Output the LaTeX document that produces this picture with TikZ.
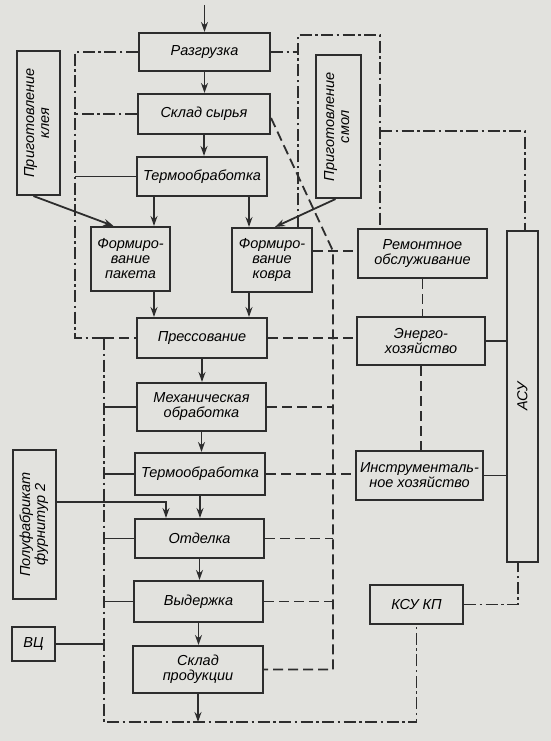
\documentclass[tikz,border=0pt]{standalone}
\usepackage{fontspec}
\setmainfont{Liberation Sans}
\usepackage{xcolor}
\usetikzlibrary{arrows.meta}
\usetikzlibrary{positioning}
\definecolor{paper}{RGB}{226,226,222}
\definecolor{ink}{RGB}{45,45,45}

\begin{document}
\begin{tikzpicture}[x=1pt,y=-1pt,
  every node/.style={font=\fontsize{14.5}{15}\selectfont\itshape,align=center,inner sep=0pt},
  blk/.style={draw=ink,line width=2.1pt,rectangle},
  arr/.style={-{Stealth[length=10pt,width=7pt]},line width=1.8pt,draw=ink},
  ln/.style={line width=1.8pt,draw=ink},
  dd/.style={ln,dash pattern=on 12pt off 3.5pt on 2.5pt off 3.5pt},
  dsh/.style={ln,dash pattern=on 10pt off 5pt}]
\useasboundingbox (0,0) rectangle (551,741);
\fill[paper] (0,0) rectangle (551,741);

% main line
\node[blk,minimum width=131,minimum height=38] (razg) at (204.5,52) {Разгрузка};
\node[blk,minimum width=132,minimum height=40] (sklad) at (204,114) {Склад сырья};
\node[blk,minimum width=130,minimum height=39] (term1) at (202,176.5) {Термообработка};
\node[blk,minimum width=79,minimum height=64] (paket) at (130.5,259) {Формиро-\\вание\\пакета};
\node[blk,minimum width=80,minimum height=64] (kovr) at (272,260) {Формиро-\\вание\\ковра};
\node[blk,minimum width=130,minimum height=40] (press) at (202,338) {Прессование};
\node[blk,minimum width=129,minimum height=48] (meh) at (201.5,407) {Механическая\\обработка};
\node[blk,minimum width=130,minimum height=42] (term2) at (200,474) {Термообработка};
\node[blk,minimum width=129,minimum height=39] (otd) at (199.5,538.5) {Отделка};
\node[blk,minimum width=129,minimum height=41] (vyd) at (198.5,601.5) {Выдержка};
\node[blk,minimum width=130,minimum height=47] (skladp) at (198,669.5) {Склад\\продукции};

% side blocks
\node[blk,minimum width=43,minimum height=144] (klei) at (38.5,123)
  {\rotatebox{90}{\begin{tabular}{@{}c@{}}Приготовление\\клея\end{tabular}}};
\node[blk,minimum width=45,minimum height=143] (smol) at (338.5,126.5)
  {\rotatebox{90}{\begin{tabular}{@{}c@{}}Приготовление\\смол\end{tabular}}};
\node[blk,minimum width=43,minimum height=149] (polu) at (34.5,524.5)
  {\rotatebox{90}{\begin{tabular}{@{}c@{}}Полуфабрикат\\фурнитур 2\end{tabular}}};
\node[blk,minimum width=43,minimum height=34] (vc) at (33.5,644) {ВЦ};
\node[blk,minimum width=129,minimum height=49] (remont) at (422.5,253.5) {Ремонтное\\обслуживание};
\node[blk,minimum width=128,minimum height=48] (energo) at (421,341) {Энерго-\\хозяйство};
\node[blk,minimum width=127,minimum height=49] (instr) at (419.5,475.5) {Инструменталь-\\ное хозяйство};
\node[blk,minimum width=31,minimum height=331] (asu) at (522.5,396.5) {\rotatebox{90}{АСУ}};
\node[blk,minimum width=93,minimum height=39] (ksu) at (416.5,604.5) {КСУ КП};

\coordinate (in) at (204.5,5);
\coordinate (a1) at (154,0);
\coordinate (a2) at (249,0);
\coordinate (bl) at (75,0);
\coordinate (bl2) at (104,0);
\coordinate (bb) at (0,722);
\coordinate (br) at (333,251);
\coordinate (fl) at (298,35);
\coordinate (fr) at (380,35);
\coordinate (ay) at (525,131);
\coordinate (ax) at (518,0);

% material flow
\draw[arr] (in) -- (razg.north);
\draw[arr] (razg.south) -- (razg.south |- sklad.north);
\draw[arr] (sklad.south) -- (sklad.south |- term1.north);
\draw[arr] (term1.south -| a1) -- (paket.north -| a1);
\draw[arr] (term1.south -| a2) -- (kovr.north -| a2);
\draw[arr] (paket.south -| a1) -- (press.north -| a1);
\draw[arr] (kovr.south -| a2) -- (press.north -| a2);
\draw[arr] (press.south) -- (press.south |- meh.north);
\draw[arr] (meh.south) -- (meh.south |- term2.north);
\draw[arr] (term2.south) -- (term2.south |- otd.north);
\draw[arr] (otd.south) -- (otd.south |- vyd.north);
\draw[arr] (vyd.south) -- (vyd.south |- skladp.north);
\draw[arr] (skladp.south) -- (skladp.south |- bb);
\draw[arr] ([xshift=-5pt]klei.south) -- ([xshift=-17pt]paket.north);
\draw[arr] ([xshift=-3pt]smol.south) -- ([xshift=3pt]kovr.north);
\draw[arr] ([yshift=22.5pt]polu.east) -| ([xshift=-33.5pt]otd.north);

% left control lines
\draw[dd] (razg.west) -- (razg.west -| bl) -- (press.west -| bl) -- (press.west -| bl2);
\draw[dsh] (press.west -| bl2) -- (press.west);
\draw[dd] (sklad.west) -- (sklad.west -| bl);
\draw[ln] (term1.west) -- (term1.west -| bl);
\draw[dd] (press.west -| bl2) -- (bb -| bl2) -- (bb -| ksu) -- (ksu.south);
\draw[dd] (ksu.east) -- (ksu.east -| ax) -- (ax |- asu.south);
\foreach \n in {meh,term2,otd,vyd}
  \draw[ln] (\n.west) -- (\n.west -| bl2);
\draw[ln] (vc.east) -- (vc.east -| bl2);

% frame round resin block
\draw[dd] (razg.east) -- (razg.east -| fl);
\draw[dd] (kovr.north -| fl) -- (fl) -- (fr) -- (remont.north -| fr);
\draw[dd] (fr |- ay) -- (ay) -- (ay |- asu.north);

% service lines
\draw[dsh] ([yshift=-4pt]sklad.east) -- (br) -- (skladp.east -| br) -- (skladp.east);
\draw[dsh] ([yshift=9pt]kovr.east) -- ([yshift=9pt]kovr.east -| remont.west);
\draw[dsh] (press.east) -- (press.east -| energo.west);
\draw[dsh] (term2.east) -- (term2.east -| instr.west);
\foreach \n in {meh,otd,vyd}
  \draw[dsh] (\n.east) -- (\n.east -| br);
\draw[dsh] (remont.south) -- (remont.south |- energo.north);
\draw[dsh] (energo.south) -- (energo.south |- instr.north);
\draw[ln] (energo.east) -- (energo.east -| asu.west);
\draw[ln] (instr.east) -- (instr.east -| asu.west);
\end{tikzpicture}
\end{document}
